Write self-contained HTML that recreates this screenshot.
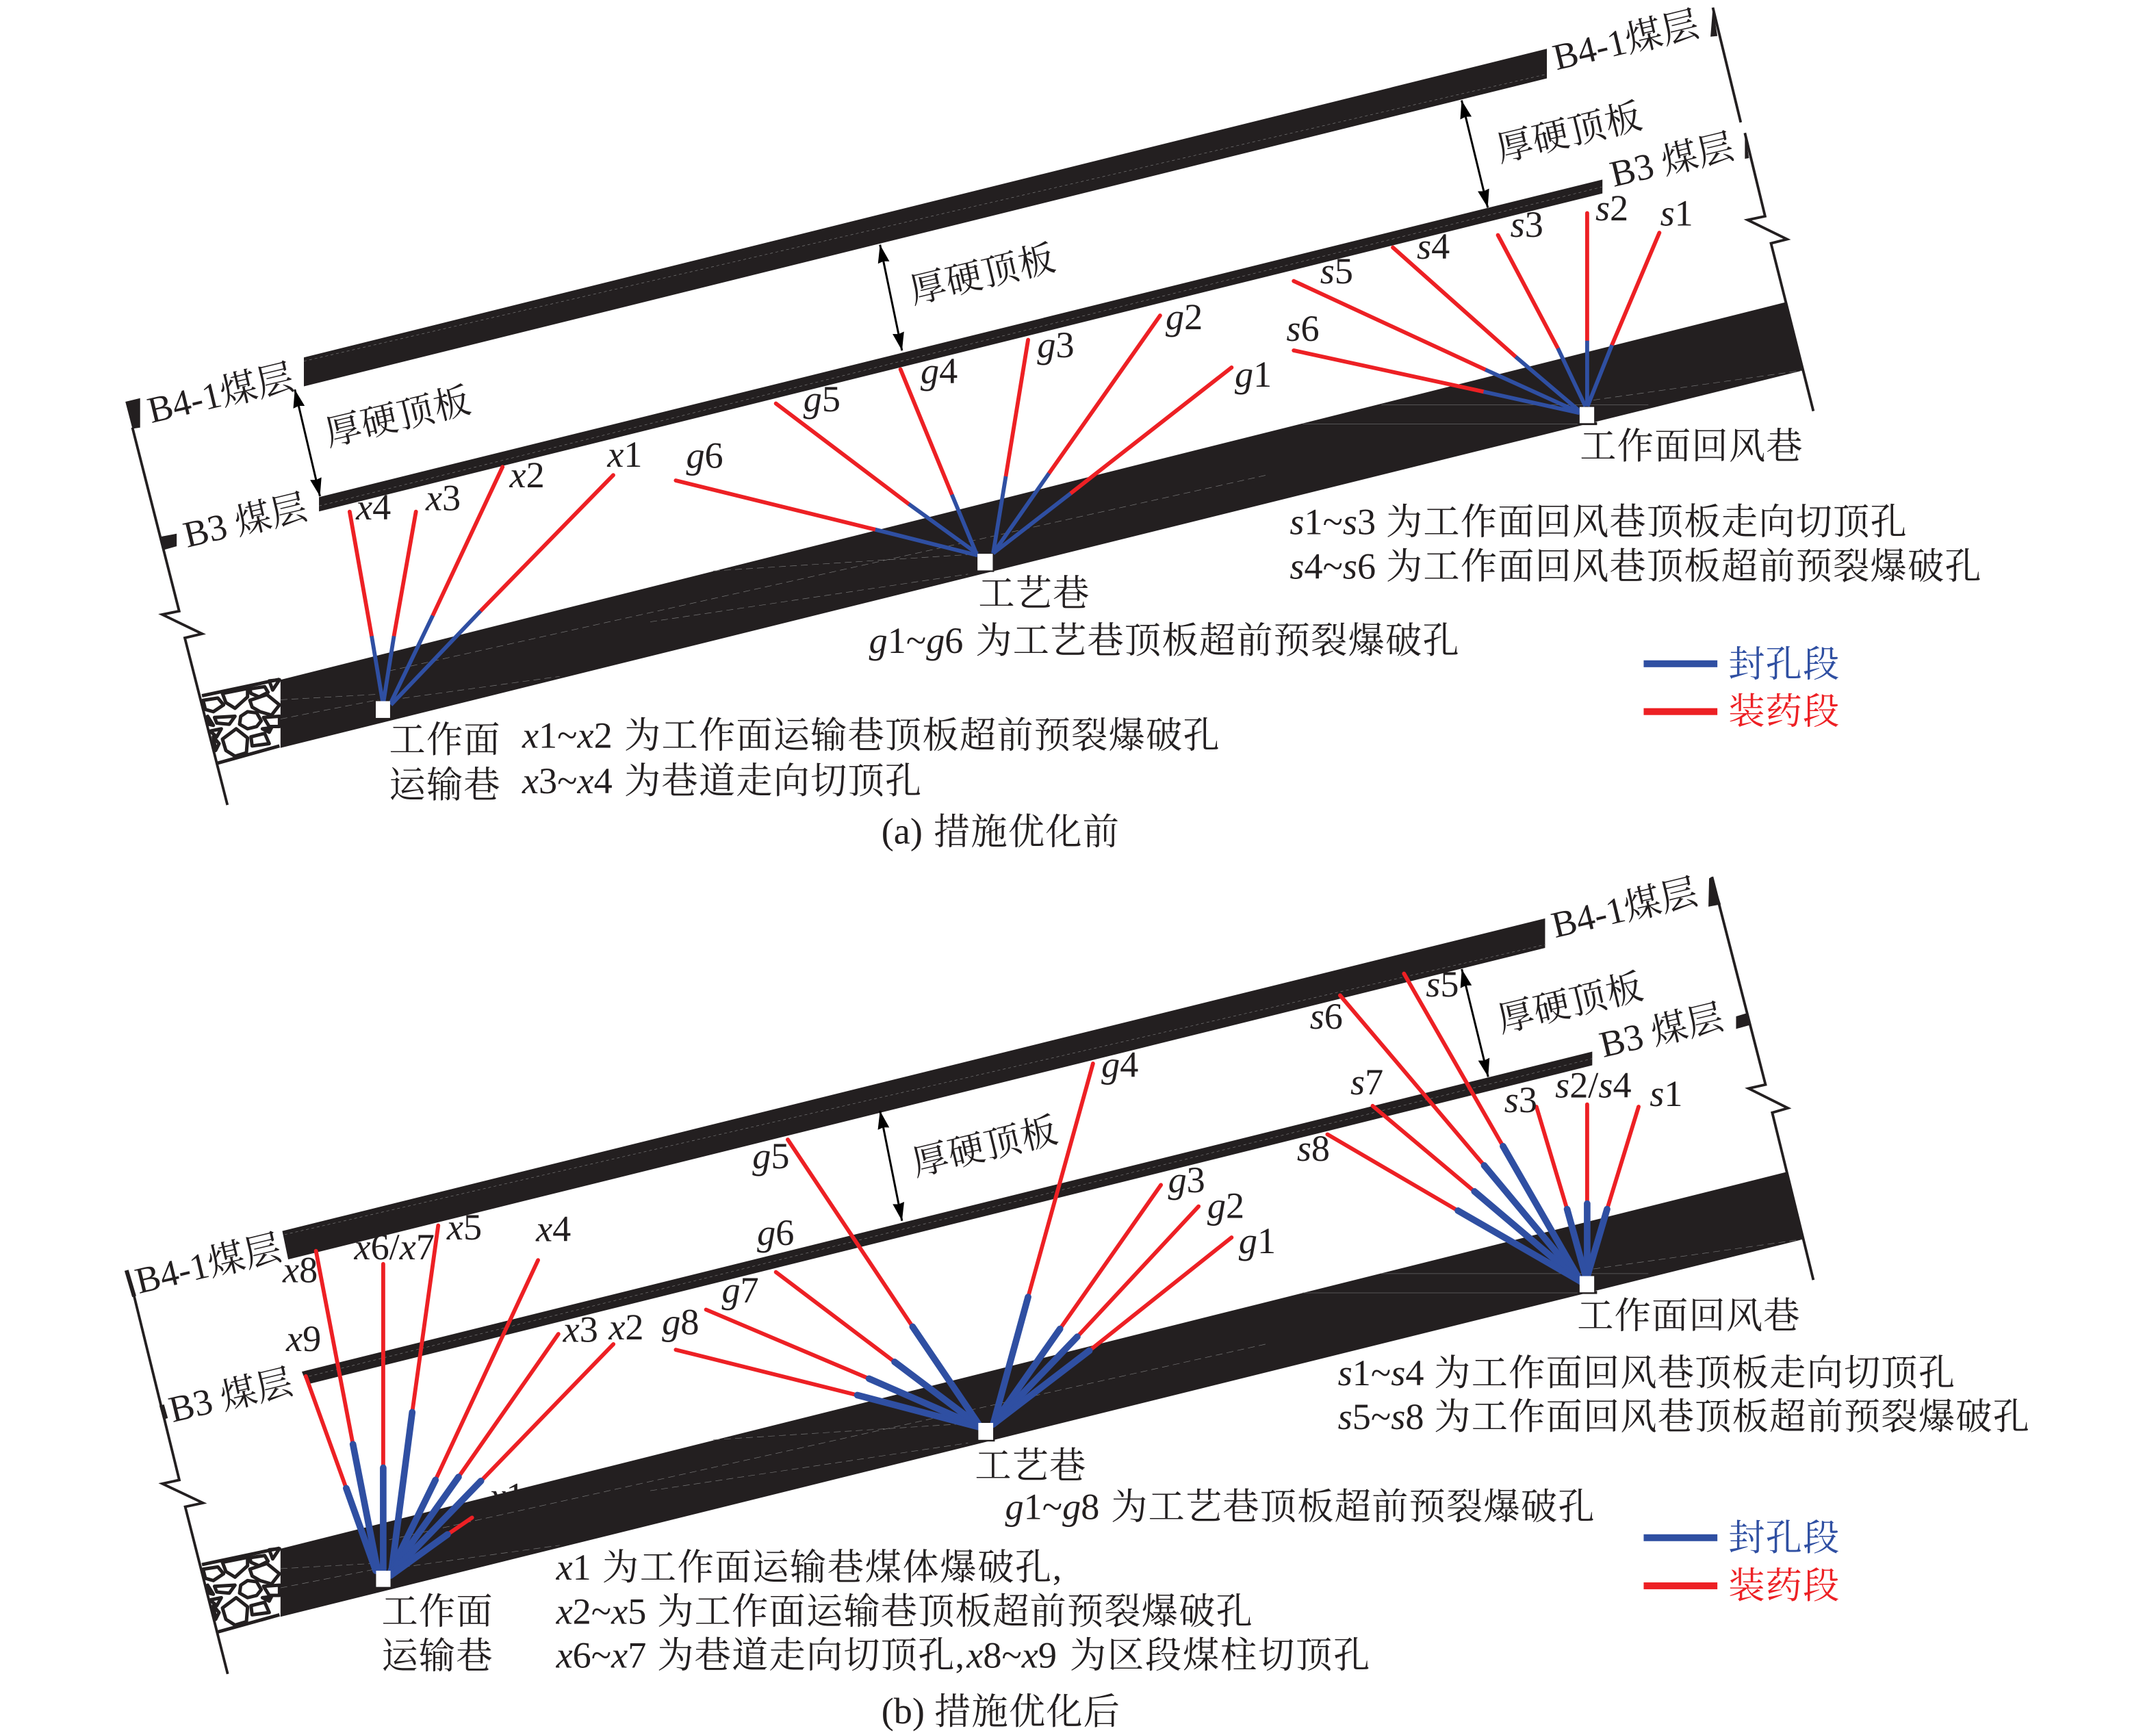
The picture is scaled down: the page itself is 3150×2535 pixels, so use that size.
<!DOCTYPE html>
<html lang="zh"><head><meta charset="utf-8"><title>措施优化前后</title>
<style>
html,body{margin:0;padding:0;background:#fff}
svg{display:block}
text{font-family:"Liberation Serif","Noto Serif CJK SC",serif;font-size:26.5px;fill:#231f20;white-space:pre}
.c{letter-spacing:.6px}
.l{font-size:27px}
.i{font-style:italic;font-size:27px}
.r line{stroke:#ed2024;stroke-width:2.9;stroke-linecap:round}
.b line{stroke:#2f4fa2;stroke-width:2.9}
.b2 line{stroke:#2f4fa2;stroke-width:4.8;stroke-linecap:round}
.k{fill:#231f20}
.ln{fill:none;stroke:#231f20;stroke-width:1.9}
.ar{stroke:#000;stroke-width:1.5;marker-start:url(#ah);marker-end:url(#ah)}
.d{stroke:#777;stroke-width:.35;stroke-dasharray:5 3;fill:none}
.s{stroke:#666;stroke-width:.4;fill:none}
</style></head><body>
<svg width="3150" height="2535" viewBox="0 0 1568 1262" preserveAspectRatio="none" xmlns="http://www.w3.org/2000/svg">
<defs>
<marker id="ah" viewBox="0 0 14 9" refX="14" refY="4.5" markerWidth="14" markerHeight="8.5" markerUnits="userSpaceOnUse" orient="auto-start-reverse"><path d="M0,0 L14,4.5 L0,9 L1,4.5z" fill="#000"/></marker>
<g id="rub">
<polygon points="45,80 385,8 385,300 115,375" fill="#fff"/>
<g fill="none" stroke="#231f20" stroke-width="15" stroke-linejoin="round">
<path d="M45,80 L385,8 M115,375 L385,300"/>
<polygon points="215,170 245,150 285,155 305,190 285,215 245,225 210,205"/>
<polygon points="135,70 245,48 245,85 190,135 150,110"/>
<polygon points="255,50 320,40 335,65 295,85 260,70"/>
<polygon points="255,100 330,75 385,120 350,165 300,150 265,130"/>
<polygon points="50,100 115,90 140,120 95,150 60,140"/>
<polygon points="100,175 190,170 165,205 110,200"/>
<polygon points="135,270 195,225 245,265 240,330 190,345 150,320"/>
<polygon points="260,260 320,245 340,290 265,300"/>
<polygon points="315,175 385,170 385,215 340,215"/>
<polygon points="80,235 130,225 110,260"/>
<polygon points="70,170 95,210 75,205"/>
<polygon points="95,260 120,290 105,320"/>
<polygon points="310,225 350,220 340,240"/>
<polygon points="340,15 385,10 355,55"/>
</g></g>
<g id="dd">
<line class="d" x1="283" y1="488" x2="921" y2="345.6"/>
<line class="d" x1="204" y1="509" x2="275" y2="505"/>
<line class="d" x1="285" y1="509" x2="407" y2="492"/>
<line class="d" x1="518.6" y1="415.3" x2="704" y2="403.4"/>
<line class="d" x1="204" y1="523" x2="275" y2="509"/>
<line class="d" x1="472.9" y1="452.3" x2="704" y2="417.6"/>
<line class="s" x1="1004.6" y1="294.4" x2="1198.8" y2="294.4"/>
<line class="s" x1="947.4" y1="308.4" x2="1147.4" y2="308.4"/>
<line class="d" x1="1158.8" y1="291" x2="1310.3" y2="269.5"/>
</g>
</defs>
<rect width="1568" height="1262" fill="#fff"/>

<!-- PANEL A -->
<text class="l" x="356" y="1097"><tspan font-style="italic">x</tspan>1</text>
<polygon class="k" points="221,260 1125,35.5 1125,57 221,281"/>
<polygon class="k" points="232,361.6 1165.4,130.6 1165.4,140.7 232,372"/>
<polygon class="k" points="204,494.5 1298,220 1311,269.5 204,544"/>
<g transform="translate(139.4,492.8) scale(.1659)"><use href="#rub"/></g>
<use href="#dd"/>
<line class="d" x1="221" y1="262.7" x2="1124.6" y2="54" style="stroke-dasharray:2 2"/>
<line class="d" x1="232" y1="368" x2="1165" y2="136" style="stroke-dasharray:2 2"/>

<path class="ln" d="M96.3,311 L130.3,444.5 L118,447 L147,461 L134.4,464 L165.4,585.5"/>
<polygon class="k" points="91.2,292.2 101.9,289.6 101.9,311 96.3,311.8"/>
<polygon class="k" points="116.6,390.4 128.5,388.2 128.5,397.3 119,400"/>
<path class="ln" d="M1245.7,5.5 L1266,89"/>
<polygon class="k" points="1245.7,5.5 1244,26.7 1249,26.2"/>
<path class="ln" d="M1269,96.7 L1283.7,157.3 L1271,160 L1299.7,174 L1288,177 L1318.8,299"/>
<polygon class="k" points="1269,96.7 1269,115.5 1272,115"/>

<line class="ar" x1="214.4" y1="283.3" x2="232.7" y2="361"/>
<line class="ar" x1="640" y1="178" x2="656" y2="255"/>
<line class="ar" x1="1063" y1="73" x2="1082" y2="151"/>

<g class="r">
<line x1="254.3" y1="372.2" x2="270.3" y2="462.7"/><line x1="302.5" y1="372.2" x2="286.5" y2="462.7"/>
<line x1="365.5" y1="339.6" x2="314.7" y2="447.8"/><line x1="446" y1="345.6" x2="349.5" y2="444.4"/>
<line x1="491.5" y1="349.5" x2="636.6" y2="385.2"/><line x1="564.3" y1="293.5" x2="660.9" y2="366.6"/>
<line x1="654.9" y1="268.6" x2="692.3" y2="359.8"/><line x1="747.7" y1="247.2" x2="731.5" y2="346.5"/>
<line x1="843.7" y1="229.5" x2="762.9" y2="344.3"/><line x1="895.7" y1="267.3" x2="778.6" y2="358.9"/>
<line x1="1206.8" y1="169.3" x2="1172.3" y2="251"/><line x1="1154.3" y1="155" x2="1154.3" y2="247.8"/>
<line x1="1089.4" y1="171" x2="1133" y2="253.3"/><line x1="1013" y1="180" x2="1102.3" y2="259.5"/>
<line x1="940.9" y1="204.4" x2="1080.3" y2="268.9"/><line x1="940.9" y1="254.9" x2="1078.9" y2="284.9"/>
</g>
<g class="b">
<line x1="270.3" y1="462.7" x2="278.4" y2="511"/><line x1="286.5" y1="462.7" x2="279" y2="510"/>
<line x1="314.7" y1="447.8" x2="284.3" y2="511"/><line x1="349.5" y1="444.4" x2="284.3" y2="512.7"/>
<line x1="636.6" y1="385.2" x2="710.9" y2="403.9"/><line x1="660.9" y1="366.6" x2="710.9" y2="402.8"/>
<line x1="692.3" y1="359.8" x2="710" y2="402.5"/><line x1="731.5" y1="346.5" x2="722.3" y2="402.5"/>
<line x1="762.9" y1="344.3" x2="722.3" y2="402.5"/><line x1="778.6" y1="358.9" x2="722.3" y2="402.5"/>
<line x1="1172.3" y1="251" x2="1154.6" y2="295.5"/><line x1="1154.3" y1="247.8" x2="1154.3" y2="295.5"/>
<line x1="1133" y1="253.3" x2="1153" y2="295.5"/><line x1="1102.3" y1="259.5" x2="1148.8" y2="299"/>
<line x1="1080.3" y1="268.9" x2="1148.8" y2="300"/><line x1="1078.9" y1="284.9" x2="1148.8" y2="300.4"/>
</g>
<rect x="273.3" y="510" width="10.4" height="12.2" fill="#fff"/>
<rect x="711" y="413.5" width="12" height="2.5" class="k"/>
<rect x="710.9" y="402.8" width="11.1" height="12.1" fill="#fff"/>
<rect x="1149" y="307" width="12.5" height="2.2" class="k"/>
<rect x="1148.8" y="296" width="10.6" height="11.8" fill="#fff"/>

<text class="l" transform="translate(110,307.8) rotate(-13.5)">B4-1煤层</text>
<text class="c" transform="translate(238.8,324.5) rotate(-13.5)">厚硬顶板</text>
<text class="l" transform="translate(136,398.3) rotate(-13.5)">B3 <tspan font-size="26.5">煤层</tspan></text>
<text class="c" transform="translate(664,221) rotate(-13.5)">厚硬顶板</text>
<text class="l" transform="translate(1132,51) rotate(-13.5)">B4-1煤层</text>
<text class="c" transform="translate(1090.7,117.8) rotate(-13.5)">厚硬顶板</text>
<text class="l" transform="translate(1173.6,136) rotate(-13.5)">B3 <tspan font-size="26.5">煤层</tspan></text>

<text class="l" x="258.9" y="377.8"><tspan font-style="italic">x</tspan>4</text>
<text class="l" x="309.6" y="371.1"><tspan font-style="italic">x</tspan>3</text>
<text class="l" x="370.6" y="354.5"><tspan font-style="italic">x</tspan>2</text>
<text class="l" x="441.7" y="339.6"><tspan font-style="italic">x</tspan>1</text>
<text class="l" x="499" y="340.2"><tspan font-style="italic">g</tspan>6</text>
<text class="l" x="584.3" y="299.3"><tspan font-style="italic">g</tspan>5</text>
<text class="l" x="669.5" y="278.9"><tspan font-style="italic">g</tspan>4</text>
<text class="l" x="754.3" y="259.9"><tspan font-style="italic">g</tspan>3</text>
<text class="l" x="847.7" y="239.4"><tspan font-style="italic">g</tspan>2</text>
<text class="l" x="898" y="281.2"><tspan font-style="italic">g</tspan>1</text>
<text class="l" x="1207.4" y="164"><tspan font-style="italic">s</tspan>1</text>
<text class="l" x="1160.3" y="160.4"><tspan font-style="italic">s</tspan>2</text>
<text class="l" x="1098.4" y="172.2"><tspan font-style="italic">s</tspan>3</text>
<text class="l" x="1030.4" y="188.2"><tspan font-style="italic">s</tspan>4</text>
<text class="l" x="960.1" y="206.2"><tspan font-style="italic">s</tspan>5</text>
<text class="l" x="935.5" y="247.8"><tspan font-style="italic">s</tspan>6</text>

<text class="c" x="1149" y="333.5">工作面回风巷</text>
<text class="l" x="938" y="388.5"><tspan font-style="italic">s</tspan>1~<tspan font-style="italic">s</tspan>3</text>
<text class="c" x="1008" y="388.5">为工作面回风巷顶板走向切顶孔</text>
<text class="l" x="938" y="421"><tspan font-style="italic">s</tspan>4~<tspan font-style="italic">s</tspan>6</text>
<text class="c" x="1008" y="421">为工作面回风巷顶板超前预裂爆破孔</text>
<text class="c" x="711.5" y="440.5">工艺巷</text>
<text class="l" x="632" y="475"><tspan font-style="italic">g</tspan>1~<tspan font-style="italic">g</tspan>6</text>
<text class="c" x="709.5" y="475">为工艺巷顶板超前预裂爆破孔</text>
<text class="c" x="283" y="547">工作面</text>
<text class="c" x="283" y="580">运输巷</text>
<text class="l" x="379.8" y="544"><tspan font-style="italic">x</tspan>1~<tspan font-style="italic">x</tspan>2</text>
<text class="c" x="454" y="544">为工作面运输巷顶板超前预裂爆破孔</text>
<text class="l" x="379.8" y="577"><tspan font-style="italic">x</tspan>3~<tspan font-style="italic">x</tspan>4</text>
<text class="c" x="454" y="577">为巷道走向切顶孔</text>
<text class="l" x="641" y="613.5">(a)</text>
<text class="c" x="679" y="614">措施优化前</text>

<rect x="1195.4" y="480.3" width="53.6" height="5" fill="#2f4fa2"/>
<rect x="1195.4" y="515.1" width="53.6" height="5" fill="#ed2024"/>
<text x="1257" y="492" style="fill:#2f4fa2" class="c">封孔段</text>
<text x="1257" y="526.5" style="fill:#ed2024" class="c">装药段</text>

<!-- PANEL B -->
<polygon class="k" points="205.3,895.4 1123.7,668 1123.7,689.5 209.6,916.1"/>
<polygon class="k" points="219.5,997.7 1158,764.9 1158,774.9 223.3,1007"/>
<polygon class="k" points="204,1126.5 1298.8,852.6 1311,901.5 204,1176"/>
<g transform="translate(139.4,1124.8) scale(.1659)"><use href="#rub"/></g>
<use href="#dd" transform="translate(0,632)"/>
<line class="d" x1="207" y1="898" x2="1124" y2="687" style="stroke-dasharray:2 2"/>
<line class="d" x1="221" y1="1002" x2="1158" y2="770" style="stroke-dasharray:2 2"/>

<path class="ln" d="M91.8,924.3 L97.6,943 L130.4,1076.5 L118.1,1079.2 L147.6,1093.2 L134.7,1096 L165.6,1217.6"/>
<line x1="92" y1="924" x2="97.6" y2="943" stroke="#231f20" stroke-width="3"/>
<line x1="117.6" y1="1022" x2="120.4" y2="1032" stroke="#231f20" stroke-width="3.5"/>
<path class="ln" d="M1245.1,637.8 L1284,788.9 L1271.7,791.7 L1300.3,806 L1288.9,809.3 L1318.8,931"/>
<polygon class="k" points="1243,638.9 1245.1,637.8 1251.5,657.8 1242.5,659.5"/>
<polygon class="k" points="1262.6,739.3 1270.3,737 1273,745.5 1262.6,748.4"/>

<line class="ar" x1="640" y1="808" x2="656" y2="888"/>
<line class="ar" x1="1063.1" y1="704.9" x2="1082.3" y2="783.3"/>

<g class="r">
<line x1="222.4" y1="1001" x2="251.8" y2="1082.5"/><line x1="229.8" y1="909.9" x2="256.7" y2="1050.5"/>
<line x1="278.7" y1="919.4" x2="278.7" y2="1067.6"/><line x1="318.7" y1="891.4" x2="299.8" y2="1027.2"/>
<line x1="391.3" y1="916.6" x2="316.7" y2="1076.5"/><line x1="406.1" y1="970.3" x2="333.5" y2="1074.3"/>
<line x1="446.1" y1="977.7" x2="349.8" y2="1077.2"/><line x1="343.3" y1="1103.9" x2="325.5" y2="1116.1"/>
<line x1="491.5" y1="981.8" x2="623.5" y2="1014.8"/><line x1="513.5" y1="952.6" x2="632" y2="1002.8"/>
<line x1="564.3" y1="925.3" x2="650.6" y2="990.6"/><line x1="572.9" y1="828.9" x2="663.7" y2="965"/>
<line x1="794.9" y1="773.6" x2="747.7" y2="943.4"/><line x1="844.3" y1="861.9" x2="770.9" y2="966.6"/>
<line x1="871.7" y1="877.5" x2="783.5" y2="972.3"/><line x1="895.7" y1="900.1" x2="792.3" y2="982.4"/>
<line x1="1191.7" y1="805" x2="1168.8" y2="879.5"/><line x1="1154.3" y1="803.3" x2="1154.3" y2="875.5"/>
<line x1="1117.4" y1="805" x2="1139.7" y2="879.5"/><line x1="1021.1" y1="708.2" x2="1093.1" y2="833.7"/>
<line x1="974.6" y1="724" x2="1079.4" y2="847.7"/><line x1="998.3" y1="804.4" x2="1072.3" y2="866.6"/>
<line x1="965.4" y1="825.1" x2="1060.3" y2="880.6"/>
</g>
<g class="b2">
<line x1="251.8" y1="1082.5" x2="273.3" y2="1142.5"/><line x1="256.7" y1="1050.5" x2="274.7" y2="1142.5"/>
<line x1="278.7" y1="1067.6" x2="278.7" y2="1142.5"/><line x1="299.8" y1="1027.2" x2="284.7" y2="1143"/>
<line x1="316.7" y1="1076.5" x2="284.1" y2="1143"/><line x1="333.5" y1="1074.3" x2="284.1" y2="1144"/>
<line x1="349.8" y1="1077.2" x2="284.1" y2="1145"/><line x1="325.5" y1="1116.1" x2="284.1" y2="1146"/>
<line x1="623.5" y1="1014.8" x2="711.5" y2="1037.9"/><line x1="632" y1="1002.8" x2="711.5" y2="1037.5"/>
<line x1="650.6" y1="990.6" x2="711.5" y2="1036.5"/><line x1="663.7" y1="965" x2="711.5" y2="1035.5"/>
<line x1="747.7" y1="943.4" x2="722.3" y2="1036"/><line x1="770.9" y1="966.6" x2="722.3" y2="1036"/>
<line x1="783.5" y1="972.3" x2="722.3" y2="1036"/><line x1="792.3" y1="982.4" x2="722.3" y2="1036"/>
<line x1="1168.8" y1="879.5" x2="1154.6" y2="927.7"/><line x1="1154.3" y1="875.5" x2="1154.3" y2="927.7"/>
<line x1="1139.7" y1="879.5" x2="1153" y2="927.7"/><line x1="1093.1" y1="833.7" x2="1149.7" y2="932.2"/>
<line x1="1079.4" y1="847.7" x2="1149.7" y2="932.2"/><line x1="1072.3" y1="866.6" x2="1149.7" y2="932.2"/>
<line x1="1060.3" y1="880.6" x2="1149.7" y2="932.2"/>
</g>
<rect x="273.5" y="1142.5" width="10.5" height="11.8" fill="#fff"/>
<rect x="711.5" y="1046" width="12" height="2.5" class="k"/>
<rect x="711.5" y="1035" width="10.8" height="12.3" fill="#fff"/>
<rect x="1149" y="939" width="12.5" height="2.2" class="k"/>
<rect x="1148.8" y="928.2" width="10.6" height="11.8" fill="#fff"/>

<text class="l" transform="translate(101,941) rotate(-13.5)">B4-1煤层</text>
<text class="l" transform="translate(125.5,1034.6) rotate(-13.5)">B3 <tspan font-size="26.5">煤层</tspan></text>
<text class="c" transform="translate(665.7,855.4) rotate(-13.5)">厚硬顶板</text>
<text class="c" transform="translate(1091.5,751) rotate(-13.5)">厚硬顶板</text>
<text class="l" transform="translate(1166,769.2) rotate(-13.5)">B3 <tspan font-size="26.5">煤层</tspan></text>
<text class="l" transform="translate(1131,682.2) rotate(-13.5)">B4-1煤层</text>

<text class="l" x="205.6" y="932.8"><tspan font-style="italic">x</tspan>8</text>
<text class="l" x="257.6" y="916.1"><tspan font-style="italic">x</tspan>6/<tspan font-style="italic">x</tspan>7</text>
<text class="l" x="325" y="901.7"><tspan font-style="italic">x</tspan>5</text>
<text class="l" x="389.8" y="902.8"><tspan font-style="italic">x</tspan>4</text>
<text class="l" x="208.1" y="982.8"><tspan font-style="italic">x</tspan>9</text>
<text class="l" x="409.5" y="976.1"><tspan font-style="italic">x</tspan>3</text>
<text class="l" x="442.7" y="974.3"><tspan font-style="italic">x</tspan>2</text>
<text class="l" x="801" y="783.4"><tspan font-style="italic">g</tspan>4</text>
<text class="l" x="547.2" y="849.9"><tspan font-style="italic">g</tspan>5</text>
<text class="l" x="550.6" y="905.6"><tspan font-style="italic">g</tspan>6</text>
<text class="l" x="524.9" y="947.3"><tspan font-style="italic">g</tspan>7</text>
<text class="l" x="481.5" y="970.5"><tspan font-style="italic">g</tspan>8</text>
<text class="l" x="849.5" y="867.1"><tspan font-style="italic">g</tspan>3</text>
<text class="l" x="878" y="886"><tspan font-style="italic">g</tspan>2</text>
<text class="l" x="900.9" y="911.5"><tspan font-style="italic">g</tspan>1</text>
<text class="l" x="1199.8" y="804.4"><tspan font-style="italic">s</tspan>1</text>
<text class="l" x="1131" y="798.2"><tspan font-style="italic">s</tspan>2/<tspan font-style="italic">s</tspan>4</text>
<text class="l" x="1094" y="808.9"><tspan font-style="italic">s</tspan>3</text>
<text class="l" x="1037" y="724.9"><tspan font-style="italic">s</tspan>5</text>
<text class="l" x="952.6" y="748.2"><tspan font-style="italic">s</tspan>6</text>
<text class="l" x="982.1" y="796"><tspan font-style="italic">s</tspan>7</text>
<text class="l" x="943.2" y="844.4"><tspan font-style="italic">s</tspan>8</text>

<text class="c" x="1147" y="966">工作面回风巷</text>
<text class="l" x="973" y="1007.5"><tspan font-style="italic">s</tspan>1~<tspan font-style="italic">s</tspan>4</text>
<text class="c" x="1043" y="1007.5">为工作面回风巷顶板走向切顶孔</text>
<text class="l" x="973" y="1039.5"><tspan font-style="italic">s</tspan>5~<tspan font-style="italic">s</tspan>8</text>
<text class="c" x="1043" y="1039.5">为工作面回风巷顶板超前预裂爆破孔</text>
<text class="c" x="709" y="1075">工艺巷</text>
<text class="l" x="731" y="1105"><tspan font-style="italic">g</tspan>1~<tspan font-style="italic">g</tspan>8</text>
<text class="c" x="808" y="1105">为工艺巷顶板超前预裂爆破孔</text>
<text class="c" x="277.5" y="1181">工作面</text>
<text class="c" x="277.5" y="1213.5">运输巷</text>
<text class="l" x="404.5" y="1149"><tspan font-style="italic">x</tspan>1</text>
<text class="c" x="438" y="1149" style="letter-spacing:.8px">为工作面运输巷煤体爆破孔,</text>
<text class="l" x="404.5" y="1181"><tspan font-style="italic">x</tspan>2~<tspan font-style="italic">x</tspan>5</text>
<text class="c" x="478" y="1181">为工作面运输巷顶板超前预裂爆破孔</text>
<text class="l" x="404.5" y="1213"><tspan font-style="italic">x</tspan>6~<tspan font-style="italic">x</tspan>7</text>
<text class="c" x="478" y="1213">为巷道走向切顶孔,</text>
<text class="l" x="703" y="1213"><tspan font-style="italic">x</tspan>8~<tspan font-style="italic">x</tspan>9</text>
<text class="c" x="778" y="1213" style="letter-spacing:.9px">为区段煤柱切顶孔</text>
<text class="l" x="641" y="1253.5">(b)</text>
<text class="c" x="679.5" y="1254">措施优化后</text>

<rect x="1195.4" y="1116" width="53.6" height="5" fill="#2f4fa2"/>
<rect x="1195.4" y="1151" width="53.6" height="5" fill="#ed2024"/>
<text x="1257" y="1127.5" style="fill:#2f4fa2" class="c">封孔段</text>
<text x="1257" y="1162.5" style="fill:#ed2024" class="c">装药段</text>
</svg>
</body></html>
